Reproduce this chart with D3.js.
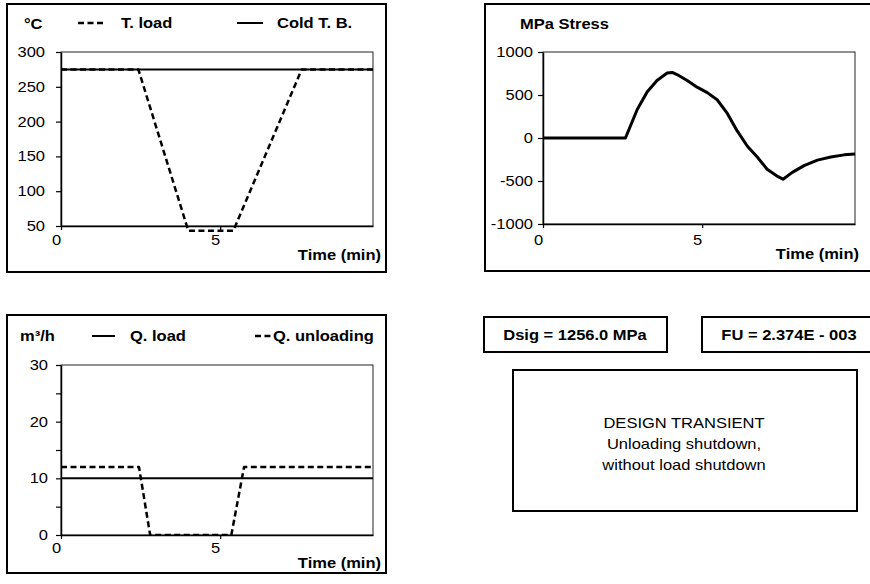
<!DOCTYPE html>
<html>
<head>
<meta charset="utf-8">
<script src="https://cdn.jsdelivr.net/npm/d3@7"></script>
<style>
  html, body { margin: 0; padding: 0; background: #fff; }
  svg { display: block; }
</style>
</head>
<body>
<svg id="chart" width="870" height="584"></svg>
<script>
// ---------------- data ----------------
const timeTLoad   = [0, 2.43, 4.0, 5.41, 7.56, 9.8];
const tLoad       = [275, 275, 43, 43, 275, 275];
const timeColdTB  = [0, 9.8];
const coldTB      = [275, 275];

const timeStress = [0, 2.59, 2.96, 3.27, 3.58, 3.90, 4.06, 4.21, 4.53, 4.84, 5.16, 5.47, 5.79, 6.10, 6.42, 6.73, 7.04, 7.35, 7.54, 7.83, 8.20, 8.62, 9.04, 9.46, 9.8];
const stress     = [0, 0, 332, 536, 668, 755, 762, 738, 668, 591, 528, 445, 286, 82, -96, -221, -364, -443, -479, -400, -321, -257, -221, -196, -186];

const timeQLoad   = [0, 9.8];
const qLoad       = [10, 10];
const timeQUnload = [0, 2.45, 2.80, 5.35, 5.75, 9.8];
const qUnload     = [12, 12, 0, 0, 12, 12];

const timeTicks   = [0, 5];
const tempTicks   = [50, 100, 150, 200, 250, 300];
const stressTicks = [-1000, -500, 0, 500, 1000];
const flowTicks   = [0, 5, 10, 15, 20, 25, 30];
const flowLabelled = [0, 10, 20, 30];

const tempUnit   = "°C";
const stressUnit = "MPa Stress";
const flowUnit   = "m³/h";
const timeTitle  = "Time (min)";
const tempNames  = ["T. load", "Cold T. B."];
const flowNames  = ["Q. load", "Q. unloading"];
const dsigText   = "Dsig = 1256.0 MPa";
const fuText     = "FU = 2.374E - 003";
const noteLines  = ["DESIGN TRANSIENT", "Unloading shutdown,", "without load shutdown"];

// ---------------- helpers ----------------
const SX = 1.18;
const FONT = "'Liberation Sans', Arial, Helvetica, sans-serif";
const svg = d3.select("#chart");
const defs = svg.append("defs");
let clipN = 0;

function label(x, y, s, opt = {}) {
  return svg.append("text")
    .attr("transform", `translate(${x},${y}) scale(${SX},1)`)
    .attr("dy", "0.35em")
    .attr("text-anchor", opt.anchor || "start")
    .attr("font-family", FONT)
    .attr("font-size", opt.size || 14)
    .attr("font-weight", opt.bold ? "bold" : "normal")
    .attr("fill", "#000")
    .text(s);
}
function box(x, y, w, h, sw = 2) {
  svg.append("rect").attr("x", x).attr("y", y).attr("width", w).attr("height", h)
    .attr("fill", "none").attr("stroke", "#000").attr("stroke-width", sw);
}
function legendLine(x1, x2, y, dashed) {
  svg.append("line").attr("x1", x1).attr("x2", x2).attr("y1", y).attr("y2", y)
    .attr("stroke", "#000").attr("stroke-width", dashed ? 2.5 : 2)
    .attr("stroke-dasharray", dashed ? "6,3.5" : null);
}

function panel(cfg) {
  const x = d3.scaleLinear().domain([0, 9.8]).range([cfg.px0, cfg.px1]);
  const y = d3.scaleLinear().domain(cfg.yDomain).range([cfg.py1, cfg.py0]);
  const g = svg.append("g");

  // plot frame
  g.append("rect").attr("x", cfg.px0).attr("y", cfg.py0)
    .attr("width", cfg.px1 - cfg.px0).attr("height", cfg.py1 - cfg.py0)
    .attr("fill", "none").attr("stroke", "#222").attr("stroke-width", 1);

  // series
  const sg = g.append("g");
  if (cfg.clip) {
    const id = "clip" + (clipN++);
    defs.append("clipPath").attr("id", id).append("rect")
      .attr("x", cfg.px0 - 2).attr("y", cfg.py0 - 4)
      .attr("width", cfg.px1 - cfg.px0 + 6).attr("height", cfg.py1 - cfg.py0 + 4);
    sg.attr("clip-path", `url(#${id})`);
  }
  cfg.series.forEach(s => {
    const pts = s.t.map((t, i) => [t, s.v[i]]);
    sg.append("path").datum(pts)
      .attr("d", d3.line().x(d => x(d[0])).y(d => y(d[1])))
      .attr("fill", "none").attr("stroke", "#000")
      .attr("stroke-width", s.w).attr("stroke-linejoin", "round")
      .attr("stroke-dasharray", s.dash || null);
  });

  // y axis
  const ya = g.append("g").attr("transform", `translate(${cfg.px0},0)`)
    .call(d3.axisLeft(y).tickValues(cfg.yTicks).tickSize(5).tickSizeOuter(0)
      .tickPadding(cfg.yPad).tickFormat(d => cfg.yLabelled.includes(d) ? String(d) : ""));
  ya.select(".domain").attr("stroke", "#000").attr("stroke-width", 1.5);
  ya.selectAll(".tick line").attr("stroke", "#000").attr("stroke-width", 1.2);
  ya.selectAll("text").each(function () {
    const t = d3.select(this);
    t.attr("x", (+t.attr("x")) / SX).attr("transform", `scale(${SX},1)`);
  }).attr("font-family", FONT).attr("font-size", 14).attr("fill", "#000");

  // x axis
  const xa = g.append("g").attr("transform", `translate(0,${cfg.py1})`)
    .call(d3.axisBottom(x).tickValues(timeTicks).tickSize(4).tickSizeOuter(0));
  xa.select(".domain").attr("stroke", "#000").attr("stroke-width", 1.5);
  xa.selectAll(".tick line").attr("stroke", "#000").attr("stroke-width", 1.2);
  xa.selectAll("text").attr("x", -5 / SX).attr("y", cfg.xLabY).attr("dy", "0.35em")
    .attr("transform", `scale(${SX},1)`)
    .attr("font-family", FONT).attr("font-size", 14).attr("fill", "#000");

  label(cfg.timeX, cfg.timeY, timeTitle, { anchor: "end", bold: true });
}

// ---------------- panel boxes ----------------
box(7, 4, 379, 268);
box(485, 4, 400, 267);
box(7, 315, 379, 258);

// ---------------- Temperature panel ----------------
panel({
  px0: 61, px1: 373, py0: 52, py1: 226,
  yDomain: [50, 300], yTicks: tempTicks, yLabelled: tempTicks, yPad: 11,
  xLabY: 14.5, timeX: 381, timeY: 255,
  series: [
    { t: timeTLoad, v: tLoad, w: 2.5, dash: "6,3.5" },
    { t: timeColdTB, v: coldTB, w: 2 }
  ]
});
label(24, 24, tempUnit, { bold: true });
legendLine(78, 105, 23, true);
label(121, 23, tempNames[0], { bold: true });
legendLine(237, 263, 23, false);
label(277, 23, tempNames[1], { bold: true });

// ---------------- Stress panel ----------------
panel({
  px0: 543, px1: 855, py0: 52, py1: 224,
  yDomain: [-1000, 1000], yTicks: stressTicks, yLabelled: stressTicks, yPad: 5,
  xLabY: 16, timeX: 859, timeY: 254,
  series: [
    { t: timeStress, v: stress, w: 3 }
  ]
});
label(520, 24, stressUnit, { bold: true });

// ---------------- Flow panel ----------------
panel({
  px0: 61, px1: 373, py0: 365, py1: 535, clip: true,
  yDomain: [0, 30], yTicks: flowTicks, yLabelled: flowLabelled, yPad: 8,
  xLabY: 13, timeX: 381, timeY: 563,
  series: [
    { t: timeQLoad, v: qLoad, w: 2 },
    { t: timeQUnload, v: qUnload, w: 2.5, dash: "6,3.5" }
  ]
});
label(20, 336, flowUnit, { bold: true });
legendLine(92, 115, 336, false);
label(130, 336, flowNames[0], { bold: true });
legendLine(255, 272, 336, true);
label(273, 336, flowNames[1], { bold: true });

// ---------------- Result boxes ----------------
box(484, 317, 183, 35);
label(575, 335.5, dsigText, { anchor: "middle", bold: true });
box(702, 317, 180, 35);
label(789, 335.5, fuText, { anchor: "middle", bold: true });

box(513, 370, 344, 141);
noteLines.forEach((s, i) => label(684, 423 + i * 21, s, { anchor: "middle" }));
</script>
</body>
</html>
